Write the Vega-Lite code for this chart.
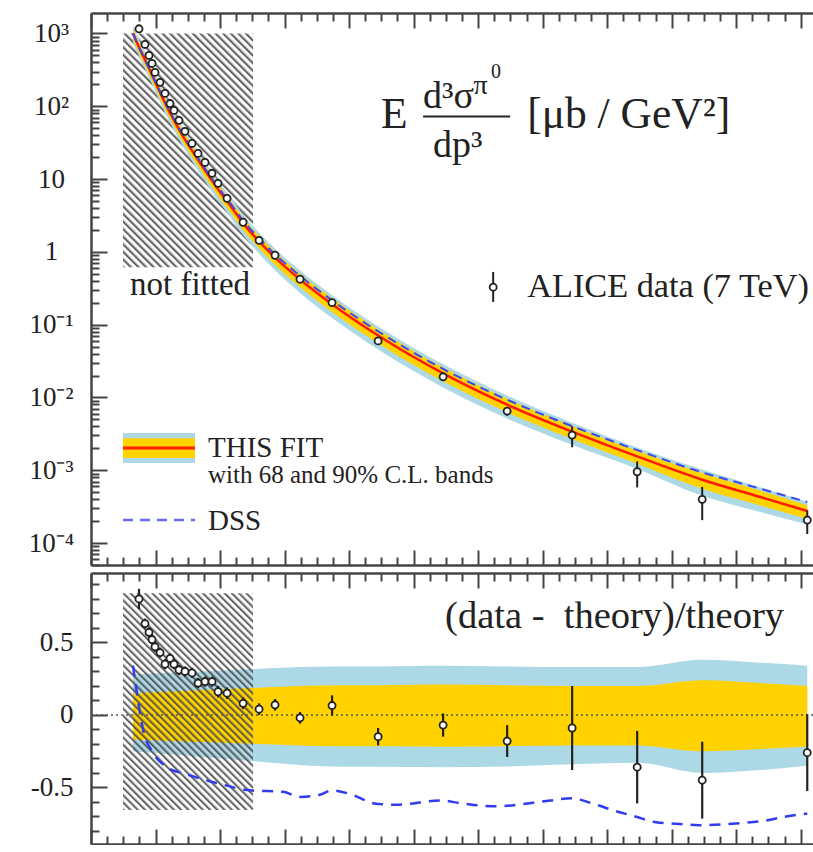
{
"$schema": "https://vega.github.io/schema/vega-lite/v6.json",
"background": "white",
"padding": {"left": 0, "top": 12, "right": 0, "bottom": 0},
"spacing": 6,
"config": {"view": {"stroke": null}, "font": "Liberation Serif", "axis": {"grid": false, "title": null}},
"datasets": {
"curve": [
{"x":0.651,"t":1000,"lo90":750,"lo68":830,"hi68":1150,"hi90":1280,"dss":1000,"p90lo":-0.25,"p68lo":-0.17,"p68hi":0.15,"p90hi":0.28},
{"x":0.744,"t":645.7,"lo90":482.3,"lo68":535.3,"hi68":743.8,"hi90":827.8,"dss":645.7,"p90lo":-0.253,"p68lo":-0.171,"p68hi":0.152,"p90hi":0.282},
{"x":0.837,"t":436.5,"lo90":324.3,"lo68":361.0,"hi68":503.7,"hi90":560.5,"dss":436.5,"p90lo":-0.257,"p68lo":-0.173,"p68hi":0.154,"p90hi":0.284},
{"x":0.946,"t":269.2,"lo90":198.9,"lo68":222.1,"hi68":311.2,"hi90":346.2,"dss":271.9,"p90lo":-0.261,"p68lo":-0.175,"p68hi":0.156,"p90hi":0.286},
{"x":1.070,"t":154.9,"lo90":113.9,"lo68":127.6,"hi68":179.4,"hi90":199.5,"dss":158.0,"p90lo":-0.265,"p68lo":-0.176,"p68hi":0.158,"p90hi":0.288},
{"x":1.225,"t":81.28,"lo90":59.25,"lo68":66.73,"hi68":94.37,"hi90":104.9,"dss":83.72,"p90lo":-0.271,"p68lo":-0.179,"p68hi":0.161,"p90hi":0.291},
{"x":1.380,"t":45.71,"lo90":33.05,"lo68":37.44,"hi68":53.21,"hi90":59.15,"dss":47.54,"p90lo":-0.277,"p68lo":-0.181,"p68hi":0.164,"p90hi":0.294},
{"x":1.566,"t":24.55,"lo90":17.58,"lo68":20.03,"hi68":28.67,"hi90":31.87,"dss":25.78,"p90lo":-0.284,"p68lo":-0.184,"p68hi":0.168,"p90hi":0.298},
{"x":1.767,"t":13.18,"lo90":9.345,"lo68":10.72,"hi68":15.45,"hi90":17.16,"dss":13.97,"p90lo":-0.291,"p68lo":-0.187,"p68hi":0.172,"p90hi":0.302},
{"x":1.969,"t":7.244,"lo90":5.085,"lo68":5.868,"hi68":8.512,"hi90":9.453,"dss":7.751,"p90lo":-0.298,"p68lo":-0.19,"p68hi":0.175,"p90hi":0.305},
{"x":2.155,"t":4.365,"lo90":3.034,"lo68":3.523,"hi68":5.146,"hi90":5.714,"dss":4.714,"p90lo":-0.305,"p68lo":-0.193,"p68hi":0.179,"p90hi":0.309},
{"x":2.388,"t":2.291,"lo90":1.572,"lo68":1.84,"hi68":2.713,"hi90":3.01,"dss":2.497,"p90lo":-0.314,"p68lo":-0.197,"p68hi":0.184,"p90hi":0.314},
{"x":2.620,"t":1.349,"lo90":0.9146,"lo68":1.079,"hi68":1.603,"hi90":1.778,"dss":1.484,"p90lo":-0.322,"p68lo":-0.2,"p68hi":0.188,"p90hi":0.318},
{"x":2.853,"t":0.8318,"lo90":0.5565,"lo68":0.6621,"hi68":0.9923,"hi90":1.1005,"dss":0.9233,"p90lo":-0.331,"p68lo":-0.204,"p68hi":0.193,"p90hi":0.323},
{"x":3.240,"t":0.4169,"lo90":0.2731,"lo68":0.3294,"hi68":0.5003,"hi90":0.5545,"dss":0.4669,"p90lo":-0.345,"p68lo":-0.21,"p68hi":0.2,"p90hi":0.33},
{"x":3.736,"t":0.1905,"lo90":0.1229,"lo68":0.1495,"hi68":0.2296,"hi90":0.2543,"dss":0.2153,"p90lo":-0.355,"p68lo":-0.215,"p68hi":0.205,"p90hi":0.335},
{"x":4.450,"t":0.07079,"lo90":0.04545,"lo68":0.05557,"hi68":0.0853,"hi90":0.0945,"dss":0.0807,"p90lo":-0.358,"p68lo":-0.215,"p68hi":0.205,"p90hi":0.335},
{"x":5.457,"t":0.02138,"lo90":0.01368,"lo68":0.01668,"hi68":0.02587,"hi90":0.02865,"dss":0.02459,"p90lo":-0.36,"p68lo":-0.22,"p68hi":0.21,"p90hi":0.34},
{"x":6.450,"t":0.007943,"lo90":0.005123,"lo68":0.006235,"hi68":0.009571,"hi90":0.010604,"dss":0.009293,"p90lo":-0.355,"p68lo":-0.215,"p68hi":0.205,"p90hi":0.335},
{"x":7.457,"t":0.003388,"lo90":0.002236,"lo68":0.002677,"hi68":0.004066,"hi90":0.004506,"dss":0.004032,"p90lo":-0.34,"p68lo":-0.21,"p68hi":0.2,"p90hi":0.33},
{"x":8.465,"t":0.001549,"lo90":0.001038,"lo68":0.001224,"hi68":0.001859,"hi90":0.00206,"dss":0.00189,"p90lo":-0.33,"p68lo":-0.21,"p68hi":0.2,"p90hi":0.33},
{"x":9.473,"t":0.0007413,"lo90":0.0004448,"lo68":0.000556,"hi68":0.0009192,"hi90":0.001023,"dss":0.000934,"p90lo":-0.4,"p68lo":-0.25,"p68hi":0.24,"p90hi":0.38},
{"x":10.372,"t":0.0004295,"lo90":0.0002663,"lo68":0.0003286,"hi68":0.000524,"hi90":0.0005841,"dss":0.0005584,"p90lo":-0.38,"p68lo":-0.235,"p68hi":0.22,"p90hi":0.36},
{"x":11.101,"t":0.0002754,"lo90":0.000179,"lo68":0.0002148,"hi68":0.0003305,"hi90":0.000369,"dss":0.0003663,"p90lo":-0.35,"p68lo":-0.22,"p68hi":0.2,"p90hi":0.34}
],
"dssr": [
{"x":0.651,"r":0.34},{"x":0.729,"r":0.10},{"x":0.806,"r":-0.10},{"x":0.961,"r":-0.26},{"x":1.178,"r":-0.36},{"x":1.488,"r":-0.41},{"x":1.953,"r":-0.47},{"x":2.465,"r":-0.52},{"x":2.977,"r":-0.53},{"x":3.240,"r":-0.565},{"x":3.550,"r":-0.55},{"x":3.736,"r":-0.52},{"x":4.047,"r":-0.55},{"x":4.388,"r":-0.61},{"x":4.713,"r":-0.62},{"x":5.411,"r":-0.59},{"x":5.752,"r":-0.61},{"x":6.264,"r":-0.63},{"x":7.116,"r":-0.59},{"x":7.442,"r":-0.575},{"x":7.767,"r":-0.61},{"x":8.109,"r":-0.66},{"x":8.434,"r":-0.70},{"x":8.760,"r":-0.74},{"x":9.070,"r":-0.75},{"x":9.426,"r":-0.76},{"x":9.767,"r":-0.755},{"x":10.093,"r":-0.745},{"x":10.434,"r":-0.73},{"x":10.775,"r":-0.70},{"x":11.101,"r":-0.68}
],
"pts": [
{"x":0.744,"y":1160,"ylo":1115,"yhi":1205,"r":0.80,"rlo":0.73,"rhi":0.87},
{"x":0.837,"y":706,"ylo":690.8,"yhi":721.2,"r":0.63,"rlo":0.595,"rhi":0.665},
{"x":0.899,"y":499,"ylo":487.9,"yhi":510.1,"r":0.57,"rlo":0.535,"rhi":0.605},
{"x":0.946,"y":387,"ylo":378.1,"yhi":395.9,"r":0.52,"rlo":0.485,"rhi":0.555},
{"x":0.992,"y":292,"ylo":285.0,"yhi":299.0,"r":0.47,"rlo":0.435,"rhi":0.505},
{"x":1.070,"y":213,"ylo":207.8,"yhi":218.2,"r":0.43,"rlo":0.395,"rhi":0.465},
{"x":1.147,"y":150,"ylo":146.1,"yhi":153.9,"r":0.35,"rlo":0.315,"rhi":0.385},
{"x":1.225,"y":109,"ylo":106.3,"yhi":111.7,"r":0.39,"rlo":0.355,"rhi":0.425},
{"x":1.287,"y":87.7,"ylo":85.4,"yhi":90.0,"r":0.35,"rlo":0.315,"rhi":0.385},
{"x":1.364,"y":64,"ylo":62.3,"yhi":65.7,"r":0.31,"rlo":0.275,"rhi":0.345},
{"x":1.457,"y":45.2,"ylo":44.0,"yhi":46.4,"r":0.30,"rlo":0.265,"rhi":0.335},
{"x":1.566,"y":30.9,"ylo":30.1,"yhi":31.7,"r":0.29,"rlo":0.255,"rhi":0.325},
{"x":1.659,"y":22.5,"ylo":21.85,"yhi":23.15,"r":0.22,"rlo":0.185,"rhi":0.255},
{"x":1.767,"y":16.9,"ylo":16.42,"yhi":17.38,"r":0.23,"rlo":0.195,"rhi":0.265},
{"x":1.876,"y":12.0,"ylo":11.66,"yhi":12.34,"r":0.23,"rlo":0.195,"rhi":0.265},
{"x":1.969,"y":8.73,"ylo":8.43,"yhi":9.03,"r":0.16,"rlo":0.12,"rhi":0.20},
{"x":2.109,"y":5.43,"ylo":5.24,"yhi":5.62,"r":0.15,"rlo":0.11,"rhi":0.19},
{"x":2.357,"y":2.55,"ylo":2.456,"yhi":2.644,"r":0.08,"rlo":0.04,"rhi":0.12},
{"x":2.605,"y":1.44,"ylo":1.385,"yhi":1.495,"r":0.04,"rlo":0.0,"rhi":0.08},
{"x":2.853,"y":0.898,"ylo":0.8644,"yhi":0.9316,"r":0.07,"rlo":0.03,"rhi":0.11},
{"x":3.240,"y":0.421,"ylo":0.4038,"yhi":0.4382,"r":-0.02,"rlo":-0.06,"rhi":0.02},
{"x":3.736,"y":0.201,"ylo":0.1878,"yhi":0.2142,"r":0.065,"rlo":-0.005,"rhi":0.135},
{"x":4.450,"y":0.0598,"ylo":0.05558,"yhi":0.06402,"r":-0.15,"rlo":-0.21,"rhi":-0.09},
{"x":5.457,"y":0.0192,"ylo":0.01755,"yhi":0.02085,"r":-0.07,"rlo":-0.15,"rhi":0.01},
{"x":6.450,"y":0.00649,"ylo":0.005619,"yhi":0.007361,"r":-0.18,"rlo":-0.29,"rhi":-0.07},
{"x":7.457,"y":0.00304,"ylo":0.002071,"yhi":0.004009,"r":-0.09,"rlo":-0.38,"rhi":0.20},
{"x":8.465,"y":0.000953,"ylo":0.0005807,"yhi":0.001325,"r":-0.36,"rlo":-0.61,"rhi":-0.11},
{"x":9.473,"y":0.000398,"ylo":0.0002062,"yhi":0.0005898,"r":-0.45,"rlo":-0.715,"rhi":-0.185},
{"x":11.101,"y":0.000207,"ylo":0.0001329,"yhi":0.0002811,"r":-0.26,"rlo":-0.525,"rhi":0.005}
],
"region": [{"x1":0.496,"x2":2.512,"tlo":0.614,"thi":1000,"rlo":-0.655,"rhi":0.84}]
},
"vconcat": [
{
"width": 722, "height": 552,
"resolve": {"axis": {"x": "independent", "y": "independent"}},
"layer": [
{"data": {"name": "region"},
 "mark": {"type": "rect", "fill": {"gradient": "linear", "x1": 0, "y1": 1, "x2": 0.6604, "y2": -0.1887, "stops": [
{"offset":0,"color":"#4a4a4a"},{"offset":0.0094,"color":"#4a4a4a00"},{"offset":0.0156,"color":"#4a4a4a00"},
{"offset":0.0208,"color":"#4a4a4a"},{"offset":0.0302,"color":"#4a4a4a00"},{"offset":0.0365,"color":"#4a4a4a00"},
{"offset":0.0417,"color":"#4a4a4a"},{"offset":0.0510,"color":"#4a4a4a00"},{"offset":0.0573,"color":"#4a4a4a00"},
{"offset":0.0625,"color":"#4a4a4a"},{"offset":0.0719,"color":"#4a4a4a00"},{"offset":0.0781,"color":"#4a4a4a00"},
{"offset":0.0833,"color":"#4a4a4a"},{"offset":0.0927,"color":"#4a4a4a00"},{"offset":0.0990,"color":"#4a4a4a00"},
{"offset":0.1042,"color":"#4a4a4a"},{"offset":0.1135,"color":"#4a4a4a00"},{"offset":0.1198,"color":"#4a4a4a00"},
{"offset":0.125,"color":"#4a4a4a"},{"offset":0.1344,"color":"#4a4a4a00"},{"offset":0.1406,"color":"#4a4a4a00"},
{"offset":0.1458,"color":"#4a4a4a"},{"offset":0.1552,"color":"#4a4a4a00"},{"offset":0.1615,"color":"#4a4a4a00"},
{"offset":0.1667,"color":"#4a4a4a"},{"offset":0.1760,"color":"#4a4a4a00"},{"offset":0.1823,"color":"#4a4a4a00"},
{"offset":0.1875,"color":"#4a4a4a"},{"offset":0.1969,"color":"#4a4a4a00"},{"offset":0.2031,"color":"#4a4a4a00"},
{"offset":0.2083,"color":"#4a4a4a"},{"offset":0.2177,"color":"#4a4a4a00"},{"offset":0.2240,"color":"#4a4a4a00"},
{"offset":0.2292,"color":"#4a4a4a"},{"offset":0.2385,"color":"#4a4a4a00"},{"offset":0.2448,"color":"#4a4a4a00"},
{"offset":0.25,"color":"#4a4a4a"},{"offset":0.2594,"color":"#4a4a4a00"},{"offset":0.2656,"color":"#4a4a4a00"},
{"offset":0.2708,"color":"#4a4a4a"},{"offset":0.2802,"color":"#4a4a4a00"},{"offset":0.2865,"color":"#4a4a4a00"},
{"offset":0.2917,"color":"#4a4a4a"},{"offset":0.3010,"color":"#4a4a4a00"},{"offset":0.3073,"color":"#4a4a4a00"},
{"offset":0.3125,"color":"#4a4a4a"},{"offset":0.3219,"color":"#4a4a4a00"},{"offset":0.3281,"color":"#4a4a4a00"},
{"offset":0.3333,"color":"#4a4a4a"},{"offset":0.3427,"color":"#4a4a4a00"},{"offset":0.3490,"color":"#4a4a4a00"},
{"offset":0.3542,"color":"#4a4a4a"},{"offset":0.3635,"color":"#4a4a4a00"},{"offset":0.3698,"color":"#4a4a4a00"},
{"offset":0.375,"color":"#4a4a4a"},{"offset":0.3844,"color":"#4a4a4a00"},{"offset":0.3906,"color":"#4a4a4a00"},
{"offset":0.3958,"color":"#4a4a4a"},{"offset":0.4052,"color":"#4a4a4a00"},{"offset":0.4115,"color":"#4a4a4a00"},
{"offset":0.4167,"color":"#4a4a4a"},{"offset":0.4260,"color":"#4a4a4a00"},{"offset":0.4323,"color":"#4a4a4a00"},
{"offset":0.4375,"color":"#4a4a4a"},{"offset":0.4469,"color":"#4a4a4a00"},{"offset":0.4531,"color":"#4a4a4a00"},
{"offset":0.4583,"color":"#4a4a4a"},{"offset":0.4677,"color":"#4a4a4a00"},{"offset":0.4740,"color":"#4a4a4a00"},
{"offset":0.4792,"color":"#4a4a4a"},{"offset":0.4885,"color":"#4a4a4a00"},{"offset":0.4948,"color":"#4a4a4a00"},
{"offset":0.5,"color":"#4a4a4a"},{"offset":0.5094,"color":"#4a4a4a00"},{"offset":0.5156,"color":"#4a4a4a00"},
{"offset":0.5208,"color":"#4a4a4a"},{"offset":0.5302,"color":"#4a4a4a00"},{"offset":0.5365,"color":"#4a4a4a00"},
{"offset":0.5417,"color":"#4a4a4a"},{"offset":0.5510,"color":"#4a4a4a00"},{"offset":0.5573,"color":"#4a4a4a00"},
{"offset":0.5625,"color":"#4a4a4a"},{"offset":0.5719,"color":"#4a4a4a00"},{"offset":0.5781,"color":"#4a4a4a00"},
{"offset":0.5833,"color":"#4a4a4a"},{"offset":0.5927,"color":"#4a4a4a00"},{"offset":0.5990,"color":"#4a4a4a00"},
{"offset":0.6042,"color":"#4a4a4a"},{"offset":0.6135,"color":"#4a4a4a00"},{"offset":0.6198,"color":"#4a4a4a00"},
{"offset":0.625,"color":"#4a4a4a"},{"offset":0.6344,"color":"#4a4a4a00"},{"offset":0.6406,"color":"#4a4a4a00"},
{"offset":0.6458,"color":"#4a4a4a"},{"offset":0.6552,"color":"#4a4a4a00"},{"offset":0.6615,"color":"#4a4a4a00"},
{"offset":0.6667,"color":"#4a4a4a"},{"offset":0.6760,"color":"#4a4a4a00"},{"offset":0.6823,"color":"#4a4a4a00"},
{"offset":0.6875,"color":"#4a4a4a"},{"offset":0.6969,"color":"#4a4a4a00"},{"offset":0.7031,"color":"#4a4a4a00"},
{"offset":0.7083,"color":"#4a4a4a"},{"offset":0.7177,"color":"#4a4a4a00"},{"offset":0.7240,"color":"#4a4a4a00"},
{"offset":0.7292,"color":"#4a4a4a"},{"offset":0.7385,"color":"#4a4a4a00"},{"offset":0.7448,"color":"#4a4a4a00"},
{"offset":0.75,"color":"#4a4a4a"},{"offset":0.7594,"color":"#4a4a4a00"},{"offset":0.7656,"color":"#4a4a4a00"},
{"offset":0.7708,"color":"#4a4a4a"},{"offset":0.7802,"color":"#4a4a4a00"},{"offset":0.7865,"color":"#4a4a4a00"},
{"offset":0.7917,"color":"#4a4a4a"},{"offset":0.8010,"color":"#4a4a4a00"},{"offset":0.8073,"color":"#4a4a4a00"},
{"offset":0.8125,"color":"#4a4a4a"},{"offset":0.8219,"color":"#4a4a4a00"},{"offset":0.8281,"color":"#4a4a4a00"},
{"offset":0.8333,"color":"#4a4a4a"},{"offset":0.8427,"color":"#4a4a4a00"},{"offset":0.8490,"color":"#4a4a4a00"},
{"offset":0.8542,"color":"#4a4a4a"},{"offset":0.8635,"color":"#4a4a4a00"},{"offset":0.8698,"color":"#4a4a4a00"},
{"offset":0.875,"color":"#4a4a4a"},{"offset":0.8844,"color":"#4a4a4a00"},{"offset":0.8906,"color":"#4a4a4a00"},
{"offset":0.8958,"color":"#4a4a4a"},{"offset":0.9052,"color":"#4a4a4a00"},{"offset":0.9115,"color":"#4a4a4a00"},
{"offset":0.9167,"color":"#4a4a4a"},{"offset":0.9260,"color":"#4a4a4a00"},{"offset":0.9323,"color":"#4a4a4a00"},
{"offset":0.9375,"color":"#4a4a4a"},{"offset":0.9469,"color":"#4a4a4a00"},{"offset":0.9531,"color":"#4a4a4a00"},
{"offset":0.9583,"color":"#4a4a4a"},{"offset":0.9677,"color":"#4a4a4a00"},{"offset":0.9740,"color":"#4a4a4a00"},
{"offset":0.9792,"color":"#4a4a4a"},{"offset":0.9885,"color":"#4a4a4a00"},{"offset":0.9948,"color":"#4a4a4a00"},
{"offset":1,"color":"#4a4a4a"}]}},
 "encoding": {
  "x": {"field": "x1", "type": "quantitative", "scale": {"domain": [0, 11.19], "nice": false, "zero": false},
        "axis": {"orient": "bottom", "values": [0,1,2,3,4,5,6,7,8,9,10,11], "labels": false, "tickSize": -15, "tickWidth": 2, "tickColor": "#444", "domain": true, "domainWidth": 2.5, "domainColor": "#444"}},
  "x2": {"field": "x2"},
  "y": {"field": "tlo", "type": "quantitative", "scale": {"type": "log", "domain": [4.99e-5, 1910], "nice": false},
        "axis": {"orient": "left", "values": [0.0001, 0.001, 0.01, 0.1, 1, 10, 100, 1000], "ticks": false, "domain": true, "domainWidth": 2.5, "domainColor": "#444", "labelAlign": "center", "labelBaseline": "middle", "labelPadding": 40, "labelFont": "Liberation Serif", "labelFontSize": 27, "labelColor": "#222", "minExtent": 91, "maxExtent": 91,
                 "labelExpr": "round(log(datum.value)/LN10) == 3 ? '10³' : round(log(datum.value)/LN10) == 2 ? '10²' : round(log(datum.value)/LN10) == 1 ? '10' : round(log(datum.value)/LN10) == 0 ? '1' : round(log(datum.value)/LN10) == -1 ? '10⁻¹' : round(log(datum.value)/LN10) == -2 ? '10⁻²' : round(log(datum.value)/LN10) == -3 ? '10⁻³' : '10⁻⁴'"}},
  "y2": {"field": "thi"}
 }},
{"data": {"name": "curve"},
 "mark": {"type": "area", "color": "#ADD8E6", "interpolate": "monotone"},
 "encoding": {
  "x": {"field": "x", "type": "quantitative", "scale": {"domain": [0, 11.19], "nice": false, "zero": false},
        "axis": {"orient": "bottom", "values": [0.25,0.5,0.75,1.25,1.5,1.75,2.25,2.5,2.75,3.25,3.5,3.75,4.25,4.5,4.75,5.25,5.5,5.75,6.25,6.5,6.75,7.25,7.5,7.75,8.25,8.5,8.75,9.25,9.5,9.75,10.25,10.5,10.75], "labels": false, "tickSize": -8, "tickWidth": 2, "tickColor": "#444", "domain": false}},
  "y": {"field": "lo90", "type": "quantitative", "scale": {"type": "log", "domain": [4.99e-5, 1910], "nice": false},
        "axis": {"orient": "left", "values": [0.0001, 0.001, 0.01, 0.1, 1, 10, 100, 1000], "labels": false, "tickSize": -16, "tickWidth": 2, "tickColor": "#444", "domain": false}},
  "y2": {"field": "hi90"}
 }},
{"data": {"name": "curve"},
 "mark": {"type": "area", "color": "#FFD200", "interpolate": "monotone"},
 "encoding": {
  "x": {"field": "x", "type": "quantitative", "scale": {"domain": [0, 11.19], "nice": false, "zero": false},
        "axis": {"orient": "top", "values": [0,1,2,3,4,5,6,7,8,9,10,11], "labels": false, "tickSize": -15, "tickWidth": 2, "tickColor": "#444", "domain": true, "domainWidth": 2.5, "domainColor": "#444"}},
  "y": {"field": "lo68", "type": "quantitative", "scale": {"type": "log", "domain": [4.99e-5, 1910], "nice": false},
        "axis": {"orient": "left", "values": [0.00005,0.00006,0.00007,0.00008,0.00009,0.0002,0.0003,0.0004,0.0005,0.0006,0.0007,0.0008,0.0009,0.002,0.003,0.004,0.005,0.006,0.007,0.008,0.009,0.02,0.03,0.04,0.05,0.06,0.07,0.08,0.09,0.2,0.3,0.4,0.5,0.6,0.7,0.8,0.9,2,3,4,5,6,7,8,9,20,30,40,50,60,70,80,90,200,300,400,500,600,700,800,900], "labels": false, "tickSize": -8, "tickWidth": 2, "tickColor": "#444", "domain": false}},
  "y2": {"field": "hi68"}
 }},
{"data": {"name": "curve"},
 "mark": {"type": "line", "color": "#FF1a00", "strokeWidth": 2.5, "interpolate": "monotone"},
 "encoding": {
  "x": {"field": "x", "type": "quantitative", "scale": {"domain": [0, 11.19], "nice": false, "zero": false},
        "axis": {"orient": "top", "values": [0.25,0.5,0.75,1.25,1.5,1.75,2.25,2.5,2.75,3.25,3.5,3.75,4.25,4.5,4.75,5.25,5.5,5.75,6.25,6.5,6.75,7.25,7.5,7.75,8.25,8.5,8.75,9.25,9.5,9.75,10.25,10.5,10.75], "labels": false, "tickSize": -8, "tickWidth": 2, "tickColor": "#444", "domain": false}},
  "y": {"field": "t", "type": "quantitative", "scale": {"type": "log", "domain": [4.99e-5, 1910], "nice": false}, "axis": null}
 }},
{"data": {"name": "curve"},
 "mark": {"type": "line", "color": "#3a48f0", "strokeWidth": 2, "strokeDash": [9, 6], "interpolate": "monotone"},
 "encoding": {
  "x": {"field": "x", "type": "quantitative", "scale": {"domain": [0, 11.19], "nice": false, "zero": false}, "axis": null},
  "y": {"field": "dss", "type": "quantitative", "scale": {"type": "log", "domain": [4.99e-5, 1910], "nice": false}, "axis": null}
 }},
{"data": {"name": "pts"},
 "mark": {"type": "rule", "color": "#222", "strokeWidth": 2},
 "encoding": {
  "x": {"field": "x", "type": "quantitative", "scale": {"domain": [0, 11.19], "nice": false, "zero": false}, "axis": null},
  "y": {"field": "ylo", "type": "quantitative", "scale": {"type": "log", "domain": [4.99e-5, 1910], "nice": false}, "axis": null},
  "y2": {"field": "yhi"}
 }},
{"data": {"name": "pts"},
 "mark": {"type": "point", "shape": "circle", "filled": true, "fill": "white", "stroke": "#222", "strokeWidth": 1.8, "size": 50, "opacity": 1},
 "encoding": {
  "x": {"field": "x", "type": "quantitative", "scale": {"domain": [0, 11.19], "nice": false, "zero": false}, "axis": null},
  "y": {"field": "y", "type": "quantitative", "scale": {"type": "log", "domain": [4.99e-5, 1910], "nice": false}, "axis": null}
 }},
{"data": {"values": [{"x1": 0.496, "x2": 1.612, "lo": 0.001253, "hi": 0.003236}]},
 "mark": {"type": "rect", "color": "#ADD8E6"},
 "encoding": {
  "x": {"field": "x1", "type": "quantitative", "scale": {"domain": [0, 11.19], "nice": false, "zero": false}, "axis": null},
  "x2": {"field": "x2"},
  "y": {"field": "lo", "type": "quantitative", "scale": {"type": "log", "domain": [4.99e-5, 1910], "nice": false}, "axis": null},
  "y2": {"field": "hi"}
 }},
{"data": {"values": [{"x1": 0.496, "x2": 1.612, "lo": 0.001469, "hi": 0.002759}]},
 "mark": {"type": "rect", "color": "#FFD200"},
 "encoding": {
  "x": {"field": "x1", "type": "quantitative", "scale": {"domain": [0, 11.19], "nice": false, "zero": false}, "axis": null},
  "x2": {"field": "x2"},
  "y": {"field": "lo", "type": "quantitative", "scale": {"type": "log", "domain": [4.99e-5, 1910], "nice": false}, "axis": null},
  "y2": {"field": "hi"}
 }},
{"data": {"values": [{"x1": 0.496, "x2": 1.612, "y": 0.002014}]},
 "mark": {"type": "rule", "color": "#FF1a00", "strokeWidth": 3},
 "encoding": {
  "x": {"field": "x1", "type": "quantitative", "scale": {"domain": [0, 11.19], "nice": false, "zero": false}, "axis": null},
  "x2": {"field": "x2"},
  "y": {"field": "y", "type": "quantitative", "scale": {"type": "log", "domain": [4.99e-5, 1910], "nice": false}, "axis": null}
 }},
{"data": {"values": [{"x1": 0.496, "x2": 1.612, "y": 0.000207}]},
 "mark": {"type": "rule", "color": "#6a6aff", "strokeWidth": 2.5, "strokeDash": [10, 7]},
 "encoding": {
  "x": {"field": "x1", "type": "quantitative", "scale": {"domain": [0, 11.19], "nice": false, "zero": false}, "axis": null},
  "x2": {"field": "x2"},
  "y": {"field": "y", "type": "quantitative", "scale": {"type": "log", "domain": [4.99e-5, 1910], "nice": false}, "axis": null}
 }},
{"data": {"values": [{"x": 6.233, "lo": 0.2051, "hi": 0.5297}]},
 "mark": {"type": "rule", "color": "#222", "strokeWidth": 2},
 "encoding": {
  "x": {"field": "x", "type": "quantitative", "scale": {"domain": [0, 11.19], "nice": false, "zero": false}, "axis": null},
  "y": {"field": "lo", "type": "quantitative", "scale": {"type": "log", "domain": [4.99e-5, 1910], "nice": false}, "axis": null},
  "y2": {"field": "hi"}
 }},
{"data": {"values": [{"x": 6.233, "y": 0.3266}]},
 "mark": {"type": "point", "shape": "circle", "filled": true, "fill": "white", "stroke": "#222", "strokeWidth": 1.8, "size": 50, "opacity": 1},
 "encoding": {
  "x": {"field": "x", "type": "quantitative", "scale": {"domain": [0, 11.19], "nice": false, "zero": false}, "axis": null},
  "y": {"field": "y", "type": "quantitative", "scale": {"type": "log", "domain": [4.99e-5, 1910], "nice": false}, "axis": null}
 }},
{"data": {"values": [{"x": 1.535, "y": 0.2535, "label": "not fitted"}]},
 "mark": {"type": "text", "align": "center", "baseline": "alphabetic", "font": "Liberation Serif", "fontSize": 33, "color": "#222"},
 "encoding": {
  "x": {"field": "x", "type": "quantitative", "scale": {"domain": [0, 11.19], "nice": false, "zero": false}, "axis": null},
  "y": {"field": "y", "type": "quantitative", "scale": {"type": "log", "domain": [4.99e-5, 1910], "nice": false}, "axis": null},
  "text": {"field": "label"}
 }},
{"data": {"values": [{"x": 6.76, "y": 0.2405, "label": "ALICE data (7 TeV)"}]},
 "mark": {"type": "text", "align": "left", "baseline": "alphabetic", "font": "Liberation Serif", "fontSize": 34.3, "color": "#222"},
 "encoding": {
  "x": {"field": "x", "type": "quantitative", "scale": {"domain": [0, 11.19], "nice": false, "zero": false}, "axis": null},
  "y": {"field": "y", "type": "quantitative", "scale": {"type": "log", "domain": [4.99e-5, 1910], "nice": false}, "axis": null},
  "text": {"field": "label"}
 }},
{"data": {"values": [{"x": 1.814, "y": 0.001531, "label": "THIS FIT"}, {"x": 1.814, "y": 0.000151, "label": "DSS"}]},
 "mark": {"type": "text", "align": "left", "baseline": "alphabetic", "font": "Liberation Serif", "fontSize": 29, "color": "#222"},
 "encoding": {
  "x": {"field": "x", "type": "quantitative", "scale": {"domain": [0, 11.19], "nice": false, "zero": false}, "axis": null},
  "y": {"field": "y", "type": "quantitative", "scale": {"type": "log", "domain": [4.99e-5, 1910], "nice": false}, "axis": null},
  "text": {"field": "label"}
 }},
{"data": {"values": [{"x": 1.814, "y": 0.0006607, "label": "with 68 and 90% C.L. bands"}]},
 "mark": {"type": "text", "align": "left", "baseline": "alphabetic", "font": "Liberation Serif", "fontSize": 25, "color": "#222"},
 "encoding": {
  "x": {"field": "x", "type": "quantitative", "scale": {"domain": [0, 11.19], "nice": false, "zero": false}, "axis": null},
  "y": {"field": "y", "type": "quantitative", "scale": {"type": "log", "domain": [4.99e-5, 1910], "nice": false}, "axis": null},
  "text": {"field": "label"}
 }},
{"data": {"values": [{"x": 4.496, "y": 49.7, "label": "E"}, {"x": 6.76, "y": 49.7, "label": "[μb / GeV²]"}]},
 "mark": {"type": "text", "align": "left", "baseline": "alphabetic", "font": "Liberation Serif", "fontSize": 43.5, "color": "#222"},
 "encoding": {
  "x": {"field": "x", "type": "quantitative", "scale": {"domain": [0, 11.19], "nice": false, "zero": false}, "axis": null},
  "y": {"field": "y", "type": "quantitative", "scale": {"type": "log", "domain": [4.99e-5, 1910], "nice": false}, "axis": null},
  "text": {"field": "label"}
 }},
{"data": {"values": [{"x": 5.147, "y": 93.45, "label": "d³σ"}, {"x": 5.302, "y": 19.87, "label": "dp³"}]},
 "mark": {"type": "text", "align": "left", "baseline": "alphabetic", "font": "Liberation Serif", "fontSize": 38, "color": "#222"},
 "encoding": {
  "x": {"field": "x", "type": "quantitative", "scale": {"domain": [0, 11.19], "nice": false, "zero": false}, "axis": null},
  "y": {"field": "y", "type": "quantitative", "scale": {"type": "log", "domain": [4.99e-5, 1910], "nice": false}, "axis": null},
  "text": {"field": "label"}
 }},
{"data": {"values": [{"x": 5.93, "y": 148, "label": "π"}]},
 "mark": {"type": "text", "align": "left", "baseline": "alphabetic", "font": "Liberation Serif", "fontSize": 28, "color": "#222"},
 "encoding": {
  "x": {"field": "x", "type": "quantitative", "scale": {"domain": [0, 11.19], "nice": false, "zero": false}, "axis": null},
  "y": {"field": "y", "type": "quantitative", "scale": {"type": "log", "domain": [4.99e-5, 1910], "nice": false}, "axis": null},
  "text": {"field": "label"}
 }},
{"data": {"values": [{"x": 6.2, "y": 245, "label": "0"}]},
 "mark": {"type": "text", "align": "left", "baseline": "alphabetic", "font": "Liberation Serif", "fontSize": 20, "color": "#222"},
 "encoding": {
  "x": {"field": "x", "type": "quantitative", "scale": {"domain": [0, 11.19], "nice": false, "zero": false}, "axis": null},
  "y": {"field": "y", "type": "quantitative", "scale": {"type": "log", "domain": [4.99e-5, 1910], "nice": false}, "axis": null},
  "text": {"field": "label"}
 }},
{"data": {"values": [{"x1": 5.147, "x2": 6.496, "y": 72.6}]},
 "mark": {"type": "rule", "color": "#222", "strokeWidth": 2},
 "encoding": {
  "x": {"field": "x1", "type": "quantitative", "scale": {"domain": [0, 11.19], "nice": false, "zero": false}, "axis": null},
  "x2": {"field": "x2"},
  "y": {"field": "y", "type": "quantitative", "scale": {"type": "log", "domain": [4.99e-5, 1910], "nice": false}, "axis": null}
 }}
]
},
{
"width": 722, "height": 271,
"resolve": {"axis": {"x": "independent", "y": "independent"}},
"layer": [
{"data": {"name": "curve"},
 "mark": {"type": "area", "color": "#ADD8E6", "interpolate": "monotone"},
 "encoding": {
  "x": {"field": "x", "type": "quantitative", "scale": {"domain": [0, 11.19], "nice": false, "zero": false},
        "axis": {"orient": "bottom", "values": [0,1,2,3,4,5,6,7,8,9,10,11], "labels": false, "tickSize": -15, "tickWidth": 2, "tickColor": "#444", "domain": true, "domainWidth": 2.5, "domainColor": "#444"}},
  "y": {"field": "p90lo", "type": "quantitative", "scale": {"domain": [-0.89, 0.979], "nice": false, "zero": false},
        "axis": {"orient": "left", "values": [-0.5, 0, 0.5], "ticks": false, "domain": true, "domainWidth": 2.5, "domainColor": "#444", "labelAlign": "right", "labelBaseline": "middle", "labelPadding": 18, "labelFont": "Liberation Serif", "labelFontSize": 27, "labelColor": "#222", "minExtent": 91, "maxExtent": 91,
                 "labelExpr": "datum.value == 0 ? '0' : datum.value > 0 ? '0.5' : '-0.5'"}},
  "y2": {"field": "p90hi"}
 }},
{"data": {"name": "curve"},
 "mark": {"type": "area", "color": "#FFD200", "interpolate": "monotone"},
 "encoding": {
  "x": {"field": "x", "type": "quantitative", "scale": {"domain": [0, 11.19], "nice": false, "zero": false},
        "axis": {"orient": "bottom", "values": [0.25,0.5,0.75,1.25,1.5,1.75,2.25,2.5,2.75,3.25,3.5,3.75,4.25,4.5,4.75,5.25,5.5,5.75,6.25,6.5,6.75,7.25,7.5,7.75,8.25,8.5,8.75,9.25,9.5,9.75,10.25,10.5,10.75], "labels": false, "tickSize": -8, "tickWidth": 2, "tickColor": "#444", "domain": false}},
  "y": {"field": "p68lo", "type": "quantitative", "scale": {"domain": [-0.89, 0.979], "nice": false, "zero": false},
        "axis": {"orient": "left", "values": [-0.5, 0, 0.5], "labels": false, "tickSize": -16, "tickWidth": 2, "tickColor": "#444", "domain": false}},
  "y2": {"field": "p68hi"}
 }},
{"data": {"name": "region"},
 "mark": {"type": "rect", "fill": {"gradient": "linear", "x1": 0, "y1": 1, "x2": 0.705, "y2": -0.1767, "stops": [
{"offset":0,"color":"#4a4a4a"},{"offset":0.0094,"color":"#4a4a4a00"},{"offset":0.0156,"color":"#4a4a4a00"},
{"offset":0.0208,"color":"#4a4a4a"},{"offset":0.0302,"color":"#4a4a4a00"},{"offset":0.0365,"color":"#4a4a4a00"},
{"offset":0.0417,"color":"#4a4a4a"},{"offset":0.0510,"color":"#4a4a4a00"},{"offset":0.0573,"color":"#4a4a4a00"},
{"offset":0.0625,"color":"#4a4a4a"},{"offset":0.0719,"color":"#4a4a4a00"},{"offset":0.0781,"color":"#4a4a4a00"},
{"offset":0.0833,"color":"#4a4a4a"},{"offset":0.0927,"color":"#4a4a4a00"},{"offset":0.0990,"color":"#4a4a4a00"},
{"offset":0.1042,"color":"#4a4a4a"},{"offset":0.1135,"color":"#4a4a4a00"},{"offset":0.1198,"color":"#4a4a4a00"},
{"offset":0.125,"color":"#4a4a4a"},{"offset":0.1344,"color":"#4a4a4a00"},{"offset":0.1406,"color":"#4a4a4a00"},
{"offset":0.1458,"color":"#4a4a4a"},{"offset":0.1552,"color":"#4a4a4a00"},{"offset":0.1615,"color":"#4a4a4a00"},
{"offset":0.1667,"color":"#4a4a4a"},{"offset":0.1760,"color":"#4a4a4a00"},{"offset":0.1823,"color":"#4a4a4a00"},
{"offset":0.1875,"color":"#4a4a4a"},{"offset":0.1969,"color":"#4a4a4a00"},{"offset":0.2031,"color":"#4a4a4a00"},
{"offset":0.2083,"color":"#4a4a4a"},{"offset":0.2177,"color":"#4a4a4a00"},{"offset":0.2240,"color":"#4a4a4a00"},
{"offset":0.2292,"color":"#4a4a4a"},{"offset":0.2385,"color":"#4a4a4a00"},{"offset":0.2448,"color":"#4a4a4a00"},
{"offset":0.25,"color":"#4a4a4a"},{"offset":0.2594,"color":"#4a4a4a00"},{"offset":0.2656,"color":"#4a4a4a00"},
{"offset":0.2708,"color":"#4a4a4a"},{"offset":0.2802,"color":"#4a4a4a00"},{"offset":0.2865,"color":"#4a4a4a00"},
{"offset":0.2917,"color":"#4a4a4a"},{"offset":0.3010,"color":"#4a4a4a00"},{"offset":0.3073,"color":"#4a4a4a00"},
{"offset":0.3125,"color":"#4a4a4a"},{"offset":0.3219,"color":"#4a4a4a00"},{"offset":0.3281,"color":"#4a4a4a00"},
{"offset":0.3333,"color":"#4a4a4a"},{"offset":0.3427,"color":"#4a4a4a00"},{"offset":0.3490,"color":"#4a4a4a00"},
{"offset":0.3542,"color":"#4a4a4a"},{"offset":0.3635,"color":"#4a4a4a00"},{"offset":0.3698,"color":"#4a4a4a00"},
{"offset":0.375,"color":"#4a4a4a"},{"offset":0.3844,"color":"#4a4a4a00"},{"offset":0.3906,"color":"#4a4a4a00"},
{"offset":0.3958,"color":"#4a4a4a"},{"offset":0.4052,"color":"#4a4a4a00"},{"offset":0.4115,"color":"#4a4a4a00"},
{"offset":0.4167,"color":"#4a4a4a"},{"offset":0.4260,"color":"#4a4a4a00"},{"offset":0.4323,"color":"#4a4a4a00"},
{"offset":0.4375,"color":"#4a4a4a"},{"offset":0.4469,"color":"#4a4a4a00"},{"offset":0.4531,"color":"#4a4a4a00"},
{"offset":0.4583,"color":"#4a4a4a"},{"offset":0.4677,"color":"#4a4a4a00"},{"offset":0.4740,"color":"#4a4a4a00"},
{"offset":0.4792,"color":"#4a4a4a"},{"offset":0.4885,"color":"#4a4a4a00"},{"offset":0.4948,"color":"#4a4a4a00"},
{"offset":0.5,"color":"#4a4a4a"},{"offset":0.5094,"color":"#4a4a4a00"},{"offset":0.5156,"color":"#4a4a4a00"},
{"offset":0.5208,"color":"#4a4a4a"},{"offset":0.5302,"color":"#4a4a4a00"},{"offset":0.5365,"color":"#4a4a4a00"},
{"offset":0.5417,"color":"#4a4a4a"},{"offset":0.5510,"color":"#4a4a4a00"},{"offset":0.5573,"color":"#4a4a4a00"},
{"offset":0.5625,"color":"#4a4a4a"},{"offset":0.5719,"color":"#4a4a4a00"},{"offset":0.5781,"color":"#4a4a4a00"},
{"offset":0.5833,"color":"#4a4a4a"},{"offset":0.5927,"color":"#4a4a4a00"},{"offset":0.5990,"color":"#4a4a4a00"},
{"offset":0.6042,"color":"#4a4a4a"},{"offset":0.6135,"color":"#4a4a4a00"},{"offset":0.6198,"color":"#4a4a4a00"},
{"offset":0.625,"color":"#4a4a4a"},{"offset":0.6344,"color":"#4a4a4a00"},{"offset":0.6406,"color":"#4a4a4a00"},
{"offset":0.6458,"color":"#4a4a4a"},{"offset":0.6552,"color":"#4a4a4a00"},{"offset":0.6615,"color":"#4a4a4a00"},
{"offset":0.6667,"color":"#4a4a4a"},{"offset":0.6760,"color":"#4a4a4a00"},{"offset":0.6823,"color":"#4a4a4a00"},
{"offset":0.6875,"color":"#4a4a4a"},{"offset":0.6969,"color":"#4a4a4a00"},{"offset":0.7031,"color":"#4a4a4a00"},
{"offset":0.7083,"color":"#4a4a4a"},{"offset":0.7177,"color":"#4a4a4a00"},{"offset":0.7240,"color":"#4a4a4a00"},
{"offset":0.7292,"color":"#4a4a4a"},{"offset":0.7385,"color":"#4a4a4a00"},{"offset":0.7448,"color":"#4a4a4a00"},
{"offset":0.75,"color":"#4a4a4a"},{"offset":0.7594,"color":"#4a4a4a00"},{"offset":0.7656,"color":"#4a4a4a00"},
{"offset":0.7708,"color":"#4a4a4a"},{"offset":0.7802,"color":"#4a4a4a00"},{"offset":0.7865,"color":"#4a4a4a00"},
{"offset":0.7917,"color":"#4a4a4a"},{"offset":0.8010,"color":"#4a4a4a00"},{"offset":0.8073,"color":"#4a4a4a00"},
{"offset":0.8125,"color":"#4a4a4a"},{"offset":0.8219,"color":"#4a4a4a00"},{"offset":0.8281,"color":"#4a4a4a00"},
{"offset":0.8333,"color":"#4a4a4a"},{"offset":0.8427,"color":"#4a4a4a00"},{"offset":0.8490,"color":"#4a4a4a00"},
{"offset":0.8542,"color":"#4a4a4a"},{"offset":0.8635,"color":"#4a4a4a00"},{"offset":0.8698,"color":"#4a4a4a00"},
{"offset":0.875,"color":"#4a4a4a"},{"offset":0.8844,"color":"#4a4a4a00"},{"offset":0.8906,"color":"#4a4a4a00"},
{"offset":0.8958,"color":"#4a4a4a"},{"offset":0.9052,"color":"#4a4a4a00"},{"offset":0.9115,"color":"#4a4a4a00"},
{"offset":0.9167,"color":"#4a4a4a"},{"offset":0.9260,"color":"#4a4a4a00"},{"offset":0.9323,"color":"#4a4a4a00"},
{"offset":0.9375,"color":"#4a4a4a"},{"offset":0.9469,"color":"#4a4a4a00"},{"offset":0.9531,"color":"#4a4a4a00"},
{"offset":0.9583,"color":"#4a4a4a"},{"offset":0.9677,"color":"#4a4a4a00"},{"offset":0.9740,"color":"#4a4a4a00"},
{"offset":0.9792,"color":"#4a4a4a"},{"offset":0.9885,"color":"#4a4a4a00"},{"offset":0.9948,"color":"#4a4a4a00"},
{"offset":1,"color":"#4a4a4a"}]}},
 "encoding": {
  "x": {"field": "x1", "type": "quantitative", "scale": {"domain": [0, 11.19], "nice": false, "zero": false},
        "axis": {"orient": "top", "values": [0,1,2,3,4,5,6,7,8,9,10,11], "labels": false, "tickSize": -15, "tickWidth": 2, "tickColor": "#444", "domain": true, "domainWidth": 2.5, "domainColor": "#444"}},
  "x2": {"field": "x2"},
  "y": {"field": "rlo", "type": "quantitative", "scale": {"domain": [-0.89, 0.979], "nice": false, "zero": false},
        "axis": {"orient": "left", "values": [-0.8,-0.7,-0.6,-0.4,-0.3,-0.2,-0.1,0.1,0.2,0.3,0.4,0.6,0.7,0.8,0.9], "labels": false, "tickSize": -8, "tickWidth": 2, "tickColor": "#444", "domain": false}},
  "y2": {"field": "rhi"}
 }},
{"data": {"values": [{"v": 0}]},
 "mark": {"type": "rule", "color": "#555", "strokeWidth": 1.5, "strokeDash": [2, 3]},
 "encoding": {
  "y": {"field": "v", "type": "quantitative", "scale": {"domain": [-0.89, 0.979], "nice": false, "zero": false}, "axis": null}
 }},
{"data": {"name": "dssr"},
 "mark": {"type": "line", "color": "#2f3cf0", "strokeWidth": 2.5, "strokeDash": [11, 8], "interpolate": "monotone"},
 "encoding": {
  "x": {"field": "x", "type": "quantitative", "scale": {"domain": [0, 11.19], "nice": false, "zero": false},
        "axis": {"orient": "top", "values": [0.25,0.5,0.75,1.25,1.5,1.75,2.25,2.5,2.75,3.25,3.5,3.75,4.25,4.5,4.75,5.25,5.5,5.75,6.25,6.5,6.75,7.25,7.5,7.75,8.25,8.5,8.75,9.25,9.5,9.75,10.25,10.5,10.75], "labels": false, "tickSize": -8, "tickWidth": 2, "tickColor": "#444", "domain": false}},
  "y": {"field": "r", "type": "quantitative", "scale": {"domain": [-0.89, 0.979], "nice": false, "zero": false}, "axis": null}
 }},
{"data": {"name": "pts"},
 "mark": {"type": "rule", "color": "#222", "strokeWidth": 2.2},
 "encoding": {
  "x": {"field": "x", "type": "quantitative", "scale": {"domain": [0, 11.19], "nice": false, "zero": false}, "axis": null},
  "y": {"field": "rlo", "type": "quantitative", "scale": {"domain": [-0.89, 0.979], "nice": false, "zero": false}, "axis": null},
  "y2": {"field": "rhi"}
 }},
{"data": {"name": "pts"},
 "mark": {"type": "point", "shape": "circle", "filled": true, "fill": "white", "stroke": "#222", "strokeWidth": 1.8, "size": 50, "opacity": 1},
 "encoding": {
  "x": {"field": "x", "type": "quantitative", "scale": {"domain": [0, 11.19], "nice": false, "zero": false}, "axis": null},
  "y": {"field": "r", "type": "quantitative", "scale": {"domain": [-0.89, 0.979], "nice": false, "zero": false}, "axis": null}
 }},
{"data": {"values": [{"x": 5.488, "y": 0.598, "label": "(data -\u00a0 theory)/theory"}]},
 "mark": {"type": "text", "align": "left", "baseline": "alphabetic", "font": "Liberation Serif", "fontSize": 38.5, "color": "#222"},
 "encoding": {
  "x": {"field": "x", "type": "quantitative", "scale": {"domain": [0, 11.19], "nice": false, "zero": false}, "axis": null},
  "y": {"field": "y", "type": "quantitative", "scale": {"domain": [-0.89, 0.979], "nice": false, "zero": false}, "axis": null},
  "text": {"field": "label"}
 }}
]
}
]
}
